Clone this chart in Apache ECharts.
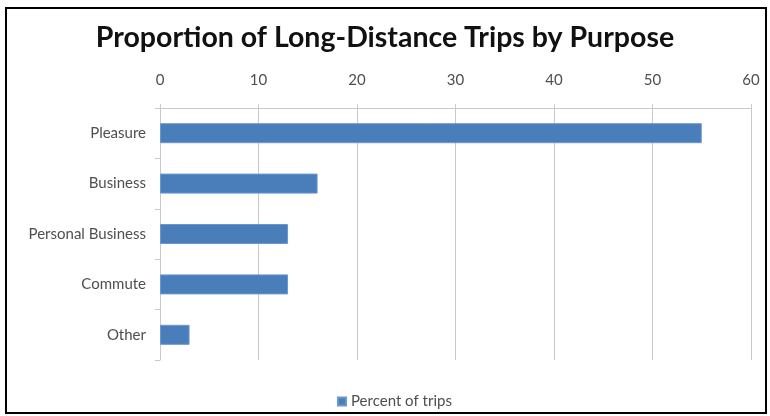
<!DOCTYPE html>
<html>
<head>
<meta charset="utf-8">
<script src="https://cdn.jsdelivr.net/npm/echarts@6/dist/echarts.min.js"></script>
<style>
  html, body { margin: 0; padding: 0; background: #fff; }
  #chart { width: 770px; height: 416px; }
</style>
</head>
<body>
<div id="chart"></div>
<script>
// Trip purposes, listed top to bottom
const categories = ['Pleasure', 'Business', 'Personal Business', 'Commute', 'Other'];
// Share of long-distance trips (%)
const percentOfTrips = [55, 16, 13, 13, 3];
const seriesName = 'Percent of trips';
const titleText = 'Proportion of Long-Distance Trips by Purpose';

const chart = echarts.init(document.getElementById('chart'));
const axisGray = '#4f4f4f';
const lineGray = '#c9c9c9';

chart.setOption({
  backgroundColor: '#fff',
  animation: false,
  title: {
    text: titleText,
    left: 'center',
    top: 18,
    textStyle: {
      fontFamily: 'Lato',
      fontWeight: 'bold',
      fontSize: 28.5,
      color: '#111'
    }
  },
  graphic: [{
    type: 'rect',
    shape: { x: 6, y: 8, width: 760, height: 405 },
    style: { fill: 'none', stroke: '#000', lineWidth: 2 },
    silent: true
  }],
  legend: {
    data: [seriesName],
    left: 332,
    top: 389,
    itemWidth: 8,
    itemHeight: 8,
    itemGap: 4,
    textStyle: { fontFamily: 'Lato', fontSize: 15, color: axisGray },
    icon: 'rect'
  },
  grid: { left: 160, right: 19, top: 108, bottom: 56, containLabel: false },
  xAxis: {
    type: 'value',
    position: 'top',
    min: 0,
    max: 60,
    interval: 10,
    axisLine: { show: true, lineStyle: { color: lineGray } },
    axisTick: { show: true, length: 4, lineStyle: { color: lineGray } },
    axisLabel: { fontFamily: 'Lato', fontSize: 15, color: axisGray, margin: 20 },
    splitLine: { show: true, lineStyle: { color: lineGray } }
  },
  yAxis: {
    type: 'category',
    data: categories,
    inverse: true,
    axisLine: { show: true, lineStyle: { color: lineGray } },
    axisTick: { show: true, length: 5, lineStyle: { color: lineGray } },
    axisLabel: { fontFamily: 'Lato', fontSize: 15, color: axisGray, margin: 14 }
  },
  series: [{
    name: seriesName,
    type: 'bar',
    data: percentOfTrips,
    barWidth: 20,
    itemStyle: { color: '#4a7ebb', borderColor: '#6b97cc', borderWidth: 1 }
  }]
});
</script>
</body>
</html>
